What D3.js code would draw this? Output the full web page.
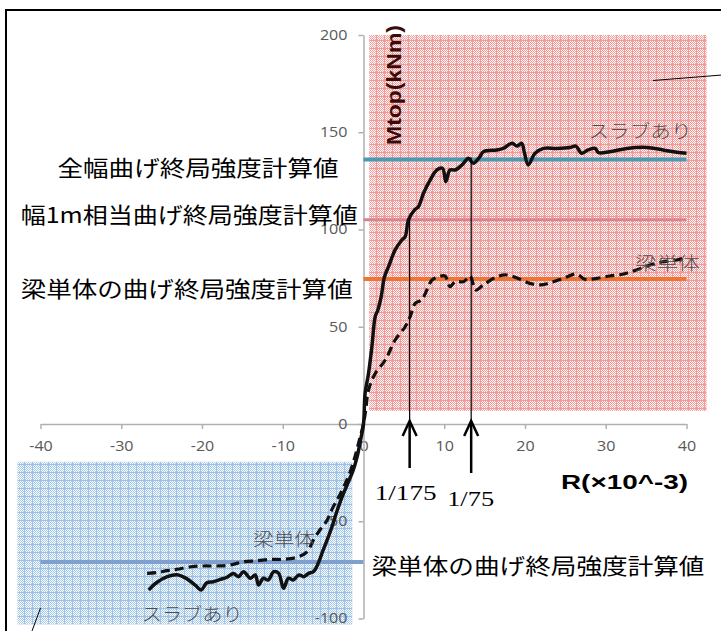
<!DOCTYPE html>
<html>
<head>
<meta charset="utf-8">
<script src="https://cdn.jsdelivr.net/npm/d3@7"></script>
<style>
  html, body { margin: 0; padding: 0; background: #fff; }
  svg { display: block; }
</style>
</head>
<body>
<svg id="chart" width="721" height="631"></svg>
<script>
// ---- data ----
const xTicks = [-40, -30, -20, -10, 0, 10, 20, 30, 40];
const yTicks = [-100, -50, 0, 50, 100, 150, 200];

// スラブあり (solid): drift angle R (x10^-3) and moment Mtop (kNm)
const slabR = [-26.6, -25.6, -24.3, -23.1, -21.9, -20.8, -20.1, -19.4, -18.6, -17.7, -16.9, -16.1, -15.5, -14.85,
  -14.0, -13.4, -13.0, -12.4, -11.8, -11.1, -10.5, -9.9, -9.3, -8.7, -8.0, -7.4, -6.8, -6.2, -5.6, -5.15, -4.5,
  -3.9, -3.3, -2.7, -2.0, -1.3, -0.8, -0.4, 0, 0.2, 0.62, 1.04, 1.45, 1.78, 2.19, 2.6, 3.1, 3.92, 4.75, 5.16,
  5.57, 6.3, 6.8, 7.43, 8.25, 9.08, 9.78, 10.2, 10.7, 11.35, 12.2, 13.0, 13.6, 14.4, 14.85, 16.5, 17.3, 18.4,
  19.0, 19.6, 19.9, 20.4, 21.25, 22.3, 23.9, 25.6, 26.3, 27.0, 27.8, 28.7, 29.1, 30.5, 32.6, 35.1, 37.1, 38.8, 40.0];
const slabM = [-85.3, -81.5, -78.5, -77.5, -79.5, -83.0, -85.3, -81.6, -81.1, -79.9, -78.8, -76.8, -78.5, -75.9,
  -79.3, -77.6, -82.8, -79.3, -80.2, -75.9, -76.8, -84.5, -79.3, -80.2, -77.6, -78.5, -76.8, -75.9, -71.6, -66.5, -59.6,
  -52.8, -45.0, -38.0, -31.0, -24.0, -17.0, -9.0, 0, 15.8, 26.0, 39.7, 55.2, 58.6, 65.5, 75.7, 80.9, 89.5, 94.6, 96.3,
  104.9, 110.0, 111.7, 118.6, 125.4, 130.6, 131.5, 124.6, 130.6, 130.6, 133.2, 136.6, 134.0, 137.4, 140.0, 140.9, 141.7, 144.3,
  142.9, 144.3, 140.0, 133.2, 139.2, 141.7, 141.7, 142.2, 142.9, 139.2, 140.9, 141.7, 139.5, 140.0, 141.7, 142.2, 140.9, 139.7, 139.2];

// 梁単体 (dashed)
const beamR = [-26.8, -25.6, -24.3, -23.1, -21.4, -19.8, -18.1, -16.5, -14.85, -13.2, -11.5, -9.9, -8.2, -7.0,
  -6.2, -5.4, -4.5, -3.8, -3.0, -2.3, -1.6, -1.0, -0.5, 0, 0.3, 0.62, 1.45, 2.7, 3.92, 5.16, 5.78, 6.4, 7.2,
  7.85, 8.47, 9.3, 10.1, 10.7, 11.35, 12.4, 13.2, 13.9, 14.85, 16.5, 17.75, 19.4, 20.6, 21.9, 23.1, 24.75,
  26.4, 27.4, 28.9, 30.5, 32.2, 33.8, 35.5, 37.1, 38.8, 39.6];
const beamM = [-76.8, -76.4, -75.4, -74.7, -73.4, -73.0, -73.0, -72.5, -70.8, -70.3, -69.6, -69.6, -68.5, -65.7,
  -59.6, -54.5, -49.4, -43.0, -37.0, -31.0, -24.0, -16.0, -8.0, 0, 8.0, 17.5, 26.0, 32.9, 43.2, 50.0, 55.2, 62.0, 63.8,
  68.9, 74.0, 75.7, 76.1, 70.6, 73.2, 73.2, 76.1, 68.9, 71.5, 75.7, 76.6, 74.4, 72.3, 71.5, 72.6, 74.9,
  77.1, 74.4, 74.9, 76.1, 77.1, 79.2, 81.7, 83.4, 84.3, 85.2];

// calculated ultimate flexural strengths (kNm)
const refNames = ["全幅曲げ終局強度計算値", "幅1m相当曲げ終局強度計算値", "梁単体の曲げ終局強度計算値", "梁単体の曲げ終局強度計算値"];
const refValues = [136, 105, 74.5, -71];
const refFrom = [0, 0, 0, -40];
const refTo = [40, 40, 40, 0];
const refColors = ["#4a9ab2", "#d4858f", "#ee7534", "#7f9fcf"];

// drift-angle markers
const driftLabels = ["1/175", "1/75"];
const driftR = [1000 / 175, 1000 / 75];
const driftTopM = [106, 137];

// ---- drawing ----
const svg = d3.select("#chart");
const x = d3.scaleLinear().domain([-40, 40]).range([40.5, 686.5]);
const y = d3.scaleLinear().domain([-100, 200]).range([618.5, 35]);

const defs = svg.append("defs");
function gridPattern(id, dot, line) {
  const p = defs.append("pattern").attr("id", id)
    .attr("patternUnits", "userSpaceOnUse").attr("width", 8).attr("height", 8);
  p.append("rect").attr("width", 8).attr("height", 8).attr("fill", "#fff");
  for (let i = 0; i < 8; i++) for (let j = 0; j < 8; j++) {
    if ((i + j) % 2 === 0) p.append("rect").attr("x", i).attr("y", j).attr("width", 1).attr("height", 1).attr("fill", dot);
  }
  p.append("rect").attr("x", 0).attr("y", 0).attr("width", 8).attr("height", 1).attr("fill", line);
  p.append("rect").attr("x", 0).attr("y", 0).attr("width", 1).attr("height", 8).attr("fill", line);
}
gridPattern("pinkGrid", "#f69c9c", "#f59898");
gridPattern("blueGrid", "#a6caed", "#9cc2e8");

svg.append("rect").attr("width", 721).attr("height", 631).attr("fill", "#fff");

// positive / negative zones
svg.append("rect")
  .attr("x", x(0.7)).attr("y", y(200))
  .attr("width", x(42.5) - x(0.7)).attr("height", y(6.7) - y(200))
  .attr("fill", "url(#pinkGrid)");
svg.append("rect")
  .attr("x", x(-42.85)).attr("y", y(-19.4))
  .attr("width", x(-1.4) - x(-42.85)).attr("height", y(-103) - y(-19.4))
  .attr("fill", "url(#blueGrid)");

// frame
svg.append("rect").attr("x", 6).attr("y", 10).attr("width", 800).attr("height", 700)
  .attr("fill", "none").attr("stroke", "#000").attr("stroke-width", 2);

// axes
const stretch = 1.15;
const xAxis = svg.append("g").attr("transform", `translate(0,${y(0)})`)
  .call(d3.axisBottom(x).tickValues(xTicks).tickFormat(d => String(d))
    .tickSize(5).tickSizeOuter(0).tickPadding(12));
const yAxis = svg.append("g").attr("transform", `translate(${x(0)},0)`)
  .call(d3.axisLeft(y).tickValues(yTicks).tickFormat(d => String(d))
    .tickSize(5).tickSizeOuter(0).tickPadding(11));
[xAxis, yAxis].forEach(g => {
  g.select(".domain").attr("stroke", "#b0b0b0").attr("stroke-width", 1.5);
  g.selectAll(".tick line").attr("stroke", "#b0b0b0").attr("stroke-width", 1.5);
  g.selectAll(".tick text")
    .attr("fill", "#595959")
    .style("font-family", "'Open Sans', 'Liberation Sans', sans-serif")
    .style("font-size", "14px")
    .attr("x", function () { return (+d3.select(this).attr("x") || 0) / stretch; })
    .attr("transform", `scale(${stretch},1)`);
});

// reference strength lines
refValues.forEach((v, i) => {
  svg.append("line")
    .attr("x1", x(refFrom[i])).attr("x2", x(refTo[i]))
    .attr("y1", y(v)).attr("y2", y(v))
    .attr("stroke", refColors[i]).attr("stroke-width", i === 1 ? 3 : 4);
});

// hysteresis envelopes
const line = d3.line().x(d => x(d[0])).y(d => y(d[1])).curve(d3.curveCatmullRom.alpha(0.5));
svg.append("path").datum(d3.zip(beamR, beamM)).attr("d", line)
  .attr("fill", "none").attr("stroke", "#111").attr("stroke-width", 3.2)
  .attr("stroke-dasharray", "9,5");
svg.append("path").datum(d3.zip(slabR, slabM)).attr("d", line)
  .attr("fill", "none").attr("stroke", "#111").attr("stroke-width", 3.5)
  .attr("stroke-linejoin", "round");

// drift markers with arrows
const arrowDrop = [44, 49];
const labelDx = [-35, -24];
const labelDy = [69, 75];
driftR.forEach((r, i) => {
  const ax = x(r), y0 = y(0);
  svg.append("line").attr("x1", ax).attr("x2", ax).attr("y1", y(driftTopM[i])).attr("y2", y0)
    .attr("stroke", "#000").attr("stroke-width", 1.2);
  svg.append("line").attr("x1", ax).attr("x2", ax).attr("y1", y0 - 2).attr("y2", y0 + arrowDrop[i])
    .attr("stroke", "#000").attr("stroke-width", 2.5);
  svg.append("path")
    .attr("d", `M${ax - 7},${y0 + 12}L${ax},${y0 - 3}L${ax + 7},${y0 + 12}`)
    .attr("fill", "none").attr("stroke", "#000").attr("stroke-width", 2.5);
  svg.append("text").attr("x", ax + labelDx[i]).attr("y", y0 + labelDy[i])
    .attr("dominant-baseline", "central")
    .attr("textLength", i === 0 ? 62 : 47).attr("lengthAdjust", "spacingAndGlyphs")
    .style("font-family", "'Liberation Serif', 'DejaVu Serif', serif")
    .style("font-size", "21px").attr("fill", "#000")
    .text(driftLabels[i]);
});

// strength labels
const cjk = "'Noto Sans CJK JP', 'Noto Sans', sans-serif";
const refLabelX = [57.5, 20.7, 20.7, 371.5];
const refLabelW = [281, 337, 332, 333];
const refLabelDy = [7, -7, 8, 1.5];
refNames.forEach((t, i) => {
  svg.append("text").attr("x", refLabelX[i]).attr("y", y(refValues[i]) + refLabelDy[i])
    .attr("dominant-baseline", "central")
    .attr("textLength", refLabelW[i]).attr("lengthAdjust", "spacingAndGlyphs")
    .style("font-family", cjk).style("font-size", "22px").attr("fill", "#000")
    .text(t);
});

// series labels
const seriesText = ["スラブあり", "梁単体", "梁単体", "スラブあり"];
const seriesX = [588.5, 635, 253, 141.7];
const seriesY = [130, 262, 538, 613];
const seriesW = [103, 65, 62, 101];
seriesText.forEach((t, i) => {
  svg.append("text").attr("x", seriesX[i]).attr("y", seriesY[i])
    .attr("dominant-baseline", "central")
    .attr("textLength", seriesW[i]).attr("lengthAdjust", "spacingAndGlyphs")
    .style("font-family", cjk).style("font-size", "18px").style("font-weight", 300)
    .attr("fill", "#4d4d4d").text(t);
});

// axis titles
svg.append("text")
  .attr("transform", `translate(394,85) rotate(-90)`)
  .attr("text-anchor", "middle").attr("dominant-baseline", "central")
  .attr("textLength", 120).attr("lengthAdjust", "spacingAndGlyphs")
  .style("font-family", "'Liberation Sans', 'Open Sans', sans-serif")
  .style("font-size", "20px").style("font-weight", "bold")
  .attr("fill", "#3a0b0b").text("Mtop(kNm)");
svg.append("text").attr("x", 561).attr("y", 482)
  .attr("dominant-baseline", "central")
  .attr("textLength", 127).attr("lengthAdjust", "spacingAndGlyphs")
  .style("font-family", "'Liberation Sans', 'Open Sans', sans-serif")
  .style("font-size", "20px").style("font-weight", "bold")
  .attr("fill", "#000").text("R(×10^-3)");

// leader lines
svg.append("line").attr("x1", x(35.85)).attr("y1", y(176.6)).attr("x2", x(44.6)).attr("y2", y(179.5))
  .attr("stroke", "#000").attr("stroke-width", 1);
svg.append("line").attr("x1", x(-40)).attr("y1", y(-94.6)).attr("x2", x(-41.05)).attr("y2", y(-106.4))
  .attr("stroke", "#000").attr("stroke-width", 1);
</script>
</body>
</html>
